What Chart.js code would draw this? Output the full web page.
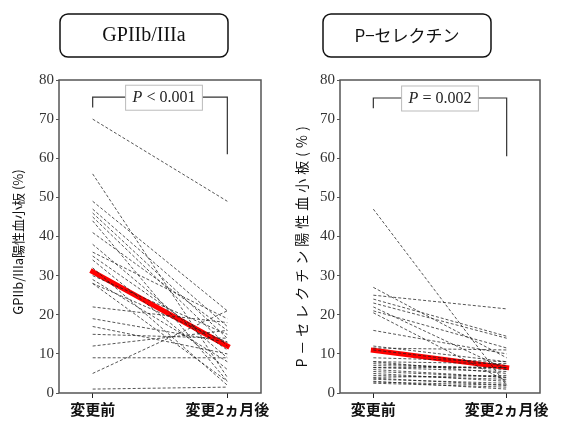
<!DOCTYPE html>
<html lang="ja">
<head>
<meta charset="UTF-8">
<title>GPIIb/IIIa・P-セレクチン</title>
<style>
  html, body { margin: 0; padding: 0; background: #fff; }
  .wrap { position: relative; width: 564px; height: 425px; }
  .wrap canvas { position: absolute; top: 0; }
</style>
</head>
<body>
<div class="wrap">
  <canvas id="gpChart" width="282" height="425" style="left:0"></canvas>
  <canvas id="psChart" width="282" height="425" style="left:282px"></canvas>
</div>

<script src="https://cdn.jsdelivr.net/npm/chart.js"></script>
<script>
// categories and tick labels
const categories = ['変更前', '変更2ヵ月後'];
const yTicks = [0, 10, 20, 30, 40, 50, 60, 70, 80];

// GPIIb/IIIa: each subject before / 2 months after
const gpPre  = [70, 56, 49, 47, 46, 45, 44, 41, 38, 36, 35, 34, 32, 30, 29, 28, 28, 22, 19, 17, 15, 12, 9, 5, 1];
const gpPost = [49, 4, 21, 17, 14, 12, 3, 16, 9, 19, 11, 6, 2, 15, 8, 13, 3, 18, 13, 10, 14, 16, 9, 21, 1.5];
const gpMean = [31, 12];

// P-selectin: each subject before / 2 months after
const psPre  = [47, 27, 25, 24, 23, 22, 21, 20.5, 16, 12, 11.5, 11, 9, 8, 8, 7.5, 7, 6.5, 6.5, 6, 5.5, 5, 4.5, 4, 3.8, 3.5, 3, 2.8, 2.5];
const psPost = [2, 9, 21.5, 14.5, 14, 6, 11.5, 3, 10, 8, 11, 7, 8, 7.5, 5, 6, 6.5, 6.5, 5.5, 4, 4, 3, 3.5, 4.5, 2, 2.5, 1, 2, 1.5];
const psMean = [10.9, 6.5];

// significance brackets: [top, left end, right end] in axis units
const gpBracket = [75.6, 73, 61];
const psBracket = [75.4, 72.8, 60.5];

function buildDatasets(pre, post, mean) {
    const sets = pre.map((v, i) => ({
        data: [{ x: 0, y: v }, { x: 1, y: post[i] }],
        borderColor: 'rgba(30,30,30,0.75)',
        borderWidth: 1,
        borderDash: [3, 2],
        pointRadius: 0
    }));
    sets.push({
        data: [{ x: 0, y: mean[0] }, { x: 1, y: mean[1] }],
        borderColor: '#ff0000',
        borderWidth: 5,
        borderCapStyle: 'square',
        pointRadius: 0
    });
    return sets;
}

function roundRect(ctx, x, y, w, h, r) {
    ctx.beginPath();
    ctx.moveTo(x + r, y);
    ctx.arcTo(x + w, y, x + w, y + h, r);
    ctx.arcTo(x + w, y + h, x, y + h, r);
    ctx.arcTo(x, y + h, x, y, r);
    ctx.arcTo(x, y, x + w, y, r);
    ctx.closePath();
}

// frame, title box, y title and p-value bracket
const decorPlugin = {
    id: 'decor',
    afterDraw(chart, args, opts) {
        const ctx = chart.ctx;
        const a = chart.chartArea;
        const xs = chart.scales.x, ys = chart.scales.y;
        ctx.save();

        // plot frame
        ctx.strokeStyle = '#555';
        ctx.lineWidth = 1.5;
        ctx.strokeRect(a.left, a.top, a.right - a.left, a.bottom - a.top);

        // title box
        ctx.lineWidth = 1.5;
        ctx.strokeStyle = '#111';
        roundRect(ctx, opts.boxX, 14, 168, 43, 8);
        ctx.stroke();
        ctx.fillStyle = '#111';
        ctx.font = opts.titleFont;
        ctx.textAlign = 'center';
        ctx.textBaseline = 'middle';
        ctx.fillText(opts.title, opts.boxX + 84, 36);

        // y axis title
        ctx.save();
        ctx.translate(opts.yTitleX, opts.yTitleY);
        ctx.rotate(-Math.PI / 2);
        ctx.font = opts.yTitleFont;
        ctx.letterSpacing = opts.yTitleSpacing;
        ctx.fillStyle = '#111';
        ctx.fillText(opts.yTitle, 0, 0);
        ctx.restore();

        // bracket
        const b = opts.bracket;
        const x0 = xs.getPixelForValue(0), x1 = xs.getPixelForValue(1);
        const yt = ys.getPixelForValue(b[0]);
        ctx.strokeStyle = '#333';
        ctx.lineWidth = 1.2;
        ctx.beginPath();
        ctx.moveTo(x0, ys.getPixelForValue(b[1]));
        ctx.lineTo(x0, yt);
        ctx.lineTo(x1, yt);
        ctx.lineTo(x1, ys.getPixelForValue(b[2]));
        ctx.stroke();

        // p-value label
        ctx.font = 'italic 16px "Liberation Serif"';
        const wP = ctx.measureText('P').width;
        ctx.font = '16px "Liberation Serif"';
        const rest = ' ' + opts.pText;
        const wR = ctx.measureText(rest).width;
        const w = wP + wR + 14;
        const cx = (x0 + x1) / 2 + opts.pShift;
        ctx.fillStyle = '#fff';
        ctx.fillRect(cx - w / 2, yt - 12, w, 25);
        ctx.strokeStyle = '#bbb';
        ctx.lineWidth = 1;
        ctx.strokeRect(cx - w / 2, yt - 12, w, 25);
        ctx.fillStyle = '#222';
        ctx.textAlign = 'left';
        ctx.font = 'italic 16px "Liberation Serif"';
        ctx.fillText('P', cx - w / 2 + 7, yt + 1);
        ctx.font = '16px "Liberation Serif"';
        ctx.fillText(rest, cx - w / 2 + 7 + wP, yt + 1);

        ctx.restore();
    }
};

function makeChart(id, pre, post, mean, yWidth, padRight, decor) {
    return new Chart(document.getElementById(id), {
        type: 'line',
        data: { datasets: buildDatasets(pre, post, mean) },
        options: {
            responsive: false,
            animation: false,
            layout: { padding: { top: 80, right: padRight, left: 0, bottom: 0 } },
            plugins: { legend: { display: false }, tooltip: { enabled: false }, decor: decor },
            scales: {
                x: {
                    type: 'linear',
                    min: -0.25,
                    max: 1.25,
                    afterBuildTicks: s => { s.ticks = [{ value: 0 }, { value: 1 }]; },
                    afterFit: s => { s.height = 32; },
                    ticks: {
                        callback: v => categories[v],
                        font: { family: '"Noto Sans CJK JP"', size: 15, weight: 'bold' },
                        color: '#111',
                        padding: 2,
                        maxRotation: 0
                    },
                    grid: { drawOnChartArea: false, tickLength: 5, color: '#222' },
                    border: { display: false }
                },
                y: {
                    min: 0,
                    max: 80,
                    afterBuildTicks: s => { s.ticks = yTicks.map(v => ({ value: v })); },
                    afterFit: s => { s.width = yWidth; },
                    ticks: {
                        font: { family: '"Liberation Serif"', size: 15 },
                        color: '#333',
                        padding: 2
                    },
                    grid: { drawOnChartArea: false, tickLength: 3, color: '#555' },
                    border: { display: false }
                }
            }
        },
        plugins: [decorPlugin]
    });
}

makeChart('gpChart', gpPre, gpPost, gpMean, 59, 21, {
    boxX: 60,
    title: 'GPIIb/IIIa',
    titleFont: '20px "Liberation Serif"',
    yTitle: 'GPIIb/IIIa陽性血小板 (%)',
    yTitleFont: '13px "Noto Sans CJK JP"',
    yTitleSpacing: '0px',
    yTitleX: 18,
    yTitleY: 242,
    bracket: gpBracket,
    pText: '< 0.001',
    pShift: 4
});

makeChart('psChart', psPre, psPost, psMean, 58, 24, {
    boxX: 41,
    title: 'P−セレクチン',
    titleFont: '17px "Noto Sans CJK JP"',
    yTitle: 'P－セレクチン陽性血小板(%)',
    yTitleFont: '14px "Noto Sans CJK JP"',
    yTitleSpacing: '4px',
    yTitleX: 20,
    yTitleY: 245,
    bracket: psBracket,
    pText: '= 0.002',
    pShift: 0
});
</script>
</body>
</html>
